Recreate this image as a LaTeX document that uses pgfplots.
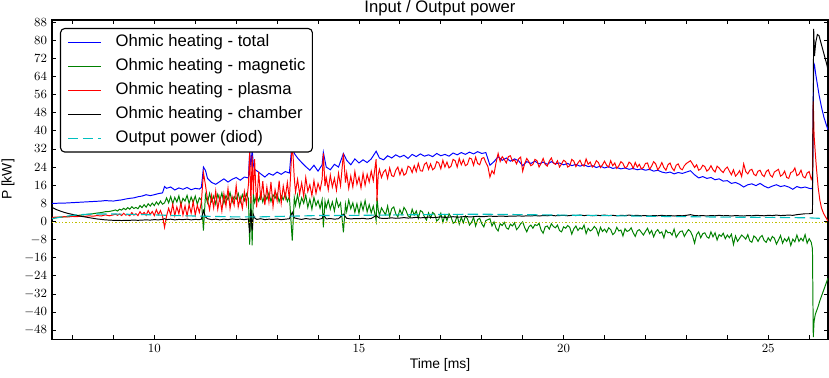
\documentclass[border=0pt]{standalone}
\usepackage{pgfplots}
\pgfplotsset{compat=1.18}
\usepackage{pgfplotstable}
\usepackage{fontspec}
\setmainfont{Liberation Sans}
\definecolor{mplblue}{rgb}{0,0,1}
\definecolor{mplgreen}{rgb}{0,0.5,0}
\definecolor{mplred}{rgb}{1,0,0}
\definecolor{mplcyan}{rgb}{0,0.75,0.75}
\definecolor{mplyellow}{rgb}{0.75,0.75,0}

\pgfplotstableread{
t M P
7.5 1.5 1.8
7.6 1.7 1.9
7.7 1.9 1.9
7.8 2.0 2.1
7.9 2.2 2.0
8.0 2.4 2.2
8.1 2.6 2.1
8.2 2.8 2.3
8.3 3.0 2.2
8.4 3.2 2.5
8.5 3.4 2.3
8.6 3.7 2.6
8.7 3.9 2.4
8.8 4.3 2.9
8.9 4.4 2.5
9.0 4.8 2.9
9.05 5.1 3.2
9.1 4.6 2.7
9.15 5.4 3.3
9.2 5.0 2.6
9.25 5.8 3.6
9.3 5.2 2.8
9.35 6.1 3.1
9.4 5.4 2.5
9.45 6.5 3.9
9.5 5.7 2.8
9.55 6.2 3.4
9.6 5.6 2.6
9.65 7.0 4.3
9.7 6.1 3.0
9.75 7.4 4.0
9.8 6.3 2.7
9.85 7.8 4.8
9.9 6.8 3.1
9.95 8.1 4.4
10.0 7.0 2.6
10.05 8.6 5.2
10.1 7.4 3.0
10.15 9.0 4.8
10.2 7.6 2.4
10.25 8.2 -2.6
10.3 10.4 2.5
10.35 8.2 5.8
10.4 11.0 3.0
10.45 7.8 7.6
10.5 10.6 2.6
10.55 8.6 6.4
10.6 11.3 3.4
10.65 7.4 8.2
10.7 10.2 2.8
10.75 9.0 6.9
10.8 11.5 2.4
10.85 7.9 7.4
10.9 10.8 3.6
10.95 8.4 8.8
11.0 11.2 2.9
11.05 7.6 7.1
11.1 10.4 4.0
11.15 9.4 8.6
11.2 -4.0 21.5
11.25 11.8 16.0
11.3 8.2 9.5
11.35 12.4 5.2
11.4 8.8 11.6
11.45 11.2 6.0
11.5 7.6 13.4
11.55 12.0 5.4
11.6 9.2 10.8
11.65 12.6 4.6
11.7 8.0 12.2
11.75 11.4 6.8
11.8 9.6 14.6
11.85 12.8 5.6
11.9 8.4 11.0
11.95 11.0 7.2
12.0 9.8 15.8
12.05 12.4 6.4
12.1 8.6 10.6
12.15 11.8 5.8
12.2 9.2 13.2
12.25 12.2 7.6
12.3 10.0 16.4
12.33 -10.2 30.5
12.36 11.0 8.0
12.39 -10.6 29.0
12.42 12.0 12.0
12.45 8.4 27.5
12.5 11.6 6.2
12.55 9.0 22.0
12.6 12.4 9.4
12.65 8.6 17.8
12.7 11.6 7.2
12.75 9.8 15.2
12.8 12.6 8.6
12.85 8.8 17.4
12.9 11.8 6.6
12.95 10.2 14.0
13.0 12.4 9.2
13.05 8.6 18.0
13.1 11.4 8.0
13.15 9.6 15.6
13.2 12.2 10.4
13.25 8.8 17.2
13.3 11.0 9.8
13.37 -8.4 35.5
13.42 10.4 19.0
13.45 7.2 13.0
13.5 11.8 18.6
13.55 6.6 12.0
13.6 10.4 17.0
13.65 8.0 11.0
13.7 11.6 19.4
13.75 6.2 13.2
13.8 9.8 16.2
13.85 5.4 11.4
13.9 10.6 18.0
13.95 7.0 12.4
14.0 9.2 16.8
14.05 5.8 13.8
14.1 9.6 18.6
14.13 -2.6 30.0
14.17 8.8 15.6
14.2 6.0 19.4
14.25 9.4 14.0
14.3 5.4 20.4
14.35 8.6 15.2
14.4 4.6 19.0
14.45 9.8 13.8
14.5 6.4 21.2
14.55 8.2 15.8
14.62 -4.8 30.0
14.67 7.6 17.2
14.7 4.4 21.4
14.75 9.4 14.6
14.8 5.6 20.0
14.85 8.2 15.2
14.9 4.0 22.0
14.95 7.8 16.4
15.0 3.6 19.6
15.05 8.4 14.8
15.1 5.0 21.2
15.15 9.2 16.0
15.2 4.2 20.8
15.25 7.4 17.4
15.3 3.8 22.2
15.35 6.8 18.0
15.42 0.4 27.5
15.44 10.5 9.0
15.47 5.2 20.6
15.5 2.6 23.0
15.55 6.0 19.4
15.6 4.4 21.8
15.65 3.0 22.8
15.7 6.8 19.0
15.75 2.2 23.6
15.8 5.6 20.2
15.85 6.4 19.8
15.9 3.4 22.6
15.95 2.0 24.0
16.0 5.2 20.6
16.05 3.0 23.2
16.1 6.2 20.4
16.15 4.8 21.2
16.2 2.4 24.4
16.25 1.8 23.8
16.3 5.4 21.6
16.35 2.8 24.6
16.4 4.6 22.0
16.45 1.4 25.6
16.5 4.8 22.4
16.55 4.2 22.2
16.6 2.0 25.2
16.65 0.6 26.0
16.7 3.8 23.0
16.75 1.6 25.4
16.8 4.0 22.8
16.85 3.2 23.6
16.9 0.2 26.4
16.95 1.0 25.8
17.0 3.6 23.2
17.05 -0.4 27.0
17.1 2.8 24.0
17.15 0.4 26.2
17.2 3.4 23.6
17.25 2.0 24.4
17.3 -0.8 27.4
17.35 -0.2 26.8
17.4 2.6 24.0
17.45 -1.2 27.8
17.5 1.8 25.0
17.55 -0.6 27.2
17.6 2.4 24.6
17.65 1.2 25.2
17.7 -1.6 28.0
17.75 -0.4 27.6
17.8 1.8 24.8
17.85 -2.0 28.4
17.9 0.8 25.6
17.95 1.4 25.0
18.0 -1.0 27.8
18.05 -2.4 28.2
18.1 0.4 26.0
18.15 0.8 24.2
18.2 1.2 19.6
18.25 -2.0 22.4
18.3 -0.2 21.0
18.35 -3.0 26.0
18.4 -4.2 30.0
18.45 -1.0 26.4
18.5 -1.8 28.6
18.55 -0.4 27.4
18.6 -2.8 25.8
18.65 -3.4 28.6
18.7 -1.2 29.0
18.75 -2.0 26.6
18.8 -0.6 27.2
18.85 -3.6 25.4
18.9 -2.6 27.6
18.95 -1.0 28.4
19.0 -0.2 22.2
19.05 -2.8 25.6
19.1 -4.6 27.8
19.15 -2.4 26.4
19.2 -1.6 24.6
19.25 -3.0 25.2
19.3 -1.4 27.4
19.35 -1.8 26.8
19.4 -0.8 24.0
19.45 -3.8 25.6
19.5 -5.2 27.8
19.55 -2.4 25.2
19.6 -2.0 24.4
19.65 -3.4 26.6
19.7 -1.0 28.0
19.75 -2.2 25.8
19.8 -2.8 25.2
19.85 -1.6 26.8
19.9 -4.0 24.0
19.95 -4.6 25.4
20.0 -2.4 27.0
20.05 -3.0 26.4
20.1 -1.8 24.0
20.15 -2.6 24.6
20.2 -5.6 27.4
20.25 -3.2 26.6
20.3 -2.0 24.2
20.35 -4.0 25.8
20.4 -2.8 27.0
20.45 -3.4 25.0
20.5 -1.6 24.4
20.55 -5.4 27.6
20.6 -3.0 25.2
20.65 -4.2 26.2
20.7 -3.6 24.0
20.75 -2.2 24.8
20.8 -3.2 26.8
20.85 -6.0 26.0
20.9 -2.6 23.8
20.95 -4.4 25.0
21.0 -3.4 26.6
21.05 -4.8 24.8
21.1 -2.8 24.0
21.15 -3.6 26.8
21.2 -5.8 24.6
21.25 -5.0 25.8
21.3 -2.6 23.4
21.35 -4.2 24.6
21.4 -3.8 26.4
21.45 -6.4 25.6
21.5 -3.2 23.6
21.55 -4.4 24.2
21.6 -4.0 26.2
21.65 -2.8 25.4
21.7 -5.0 23.4
21.75 -6.6 26.0
21.8 -4.2 24.0
21.85 -3.6 25.2
21.9 -4.8 23.2
21.95 -6.0 23.8
22.0 -4.4 25.6
22.05 -3.0 25.8
22.1 -5.4 23.0
22.15 -4.0 24.4
22.2 -6.8 26.4
22.25 -4.6 25.4
22.3 -3.6 22.8
22.35 -5.2 24.0
22.4 -4.6 26.0
22.45 -7.2 23.8
22.5 -3.8 22.6
22.55 -5.0 25.0
22.6 -4.8 25.8
22.65 -6.0 23.6
22.7 -3.4 22.4
22.75 -7.0 24.8
22.8 -5.6 25.4
22.85 -4.4 23.4
22.9 -4.2 22.8
22.95 -6.6 24.6
23.0 -5.0 25.6
23.05 -3.6 26.2
23.1 -4.4 26.8
23.15 -6.4 25.4
23.2 -9.6 23.8
23.25 -5.8 25.0
23.3 -4.6 22.6
23.35 -7.2 23.2
23.4 -5.4 24.8
23.45 -5.0 24.2
23.5 -6.8 22.2
23.55 -7.4 23.0
23.6 -4.6 24.6
23.65 -6.8 22.8
23.7 -5.0 21.8
23.75 -8.2 24.4
23.8 -5.8 23.6
23.85 -6.6 22.4
23.9 -5.2 21.6
23.95 -7.6 23.2
24.0 -6.0 24.0
24.05 -7.2 22.2
24.1 -5.6 20.6
24.15 -10.2 22.8
24.2 -6.4 20.0
24.25 -8.8 21.0
24.3 -7.4 22.4
24.35 -6.0 19.8
24.4 -6.8 25.4
24.45 -7.8 22.0
24.5 -5.8 21.0
24.55 -8.6 22.6
24.6 -9.2 23.0
24.65 -6.4 20.8
24.7 -7.2 20.2
24.75 -8.8 22.2
24.8 -7.0 22.6
24.85 -6.2 20.6
24.9 -8.4 19.8
24.95 -9.2 22.0
25.0 -7.2 22.8
25.05 -8.6 20.4
25.1 -6.6 19.6
25.15 -7.4 21.8
25.2 -10.0 22.4
25.25 -8.2 23.0
25.3 -6.2 20.0
25.35 -9.6 20.6
25.4 -7.6 22.2
25.45 -8.8 19.4
25.5 -7.0 19.0
25.55 -10.6 21.6
25.6 -7.8 22.0
25.65 -9.0 23.6
25.7 -6.0 20.2
25.75 -8.8 20.8
25.8 -7.4 22.6
25.85 -8.6 19.8
25.9 -5.8 19.2
25.95 -9.6 21.4
26.0 -7.6 22.0
26.05 -9.2 18.6
26.08 -12.0 20.0
26.1 -51.0 53.0
26.12 -44.0 38.0
26.15 -41.0 30.0
26.18 -39.5 23.0
26.22 -37.5 15.0
26.26 -35.0 9.5
26.3 -33.0 6.0
26.35 -30.5 3.6
26.4 -28.0 2.0
26.46 -25.0 0.2
}\rgdata

\pgfplotstableread{
t T C
7.5 8.0 6.2
7.6 8.0 5.3
7.7 8.1 4.6
7.8 8.1 4.0
7.9 8.2 3.5
8.0 8.3 3.1
8.1 8.4 2.7
8.2 8.5 2.3
8.3 8.6 2.0
8.4 8.7 1.7
8.5 8.8 1.4
8.6 8.9 1.1
8.7 9.0 0.9
8.8 9.2 0.7
8.9 9.1 0.6
9.0 9.0 0.5
9.1 9.3 0.5
9.2 9.5 0.4
9.3 9.9 0.5
9.4 10.2 0.5
9.5 10.4 0.6
9.6 10.9 0.5
9.7 11.2 0.6
9.8 11.8 0.7
9.9 11.4 0.6
10.0 11.8 0.8
10.1 12.3 0.7
10.2 12.6 0.9
10.25 15.4 1.2
10.3 14.6 0.8
10.4 15.2 1.0
10.5 13.9 0.7
10.6 14.8 0.9
10.7 14.2 0.8
10.8 15.0 1.0
10.9 14.0 0.7
11.0 14.6 0.9
11.1 14.3 0.8
11.15 15.0 1.0
11.2 24.0 4.8
11.25 22.5 2.0
11.3 19.0 1.2
11.4 17.2 0.8
11.5 16.4 1.0
11.6 17.6 0.7
11.7 18.8 1.0
11.8 17.4 0.8
11.9 18.6 1.1
12.0 19.4 0.9
12.1 18.2 1.0
12.2 19.6 0.8
12.3 19.2 1.1
12.33 31.0 -5.0
12.36 24.0 5.6
12.39 32.0 -4.0
12.42 25.0 3.0
12.45 23.0 1.6
12.5 22.4 0.9
12.6 21.0 1.2
12.7 19.6 0.8
12.8 21.2 1.0
12.9 20.4 0.9
13.0 21.8 1.1
13.1 20.8 0.8
13.2 22.0 1.0
13.3 21.4 1.2
13.37 35.5 4.0
13.42 30.0 1.6
13.5 28.0 1.2
13.6 26.0 0.9
13.7 24.2 1.3
13.8 22.6 1.0
13.9 24.8 1.2
14.0 22.2 0.9
14.1 25.0 1.3
14.13 30.5 3.0
14.2 24.0 1.1
14.3 22.8 1.3
14.4 25.2 1.0
14.5 24.0 1.2
14.62 30.0 3.2
14.7 27.0 1.4
14.8 25.0 1.1
14.9 27.6 1.3
15.0 25.8 1.2
15.1 27.2 1.4
15.2 26.0 1.1
15.3 27.6 1.3
15.42 31.0 2.6
15.5 28.0 1.5
15.6 27.2 1.3
15.7 29.0 1.4
15.8 28.0 1.6
15.9 29.4 1.4
16.0 28.4 1.5
16.1 29.2 1.7
16.2 27.8 1.5
16.3 29.6 1.6
16.4 28.6 1.8
16.5 29.8 1.6
16.6 28.8 1.7
16.7 29.4 1.9
16.8 28.6 1.7
16.9 30.0 1.8
17.0 29.0 2.0
17.1 29.6 1.8
17.2 28.8 1.9
17.3 30.2 2.1
17.4 29.4 1.9
17.5 30.4 2.0
17.6 29.6 2.2
17.7 30.6 2.0
17.8 29.8 2.1
17.9 30.8 2.3
18.0 30.0 2.1
18.1 30.4 2.2
18.2 24.8 2.4
18.3 26.4 2.2
18.4 28.6 2.3
18.5 27.0 2.4
18.6 28.0 2.2
18.7 26.6 2.4
18.8 27.6 2.3
18.9 26.8 2.5
19.0 24.6 2.3
19.1 26.4 2.5
19.2 25.6 2.4
19.3 26.6 2.6
19.4 25.4 2.4
19.5 26.2 2.6
19.6 25.2 2.5
19.7 26.4 2.7
19.8 25.4 2.5
19.9 25.8 2.6
20.0 25.0 2.7
20.1 25.6 2.5
20.2 24.6 2.7
20.3 25.2 2.6
20.4 24.4 2.8
20.5 25.0 2.6
20.6 24.2 2.7
20.7 24.6 2.5
20.8 23.8 2.7
20.9 24.4 2.6
21.0 23.6 2.8
21.1 24.2 2.6
21.2 23.4 2.7
21.3 23.8 2.5
21.4 23.2 2.7
21.5 23.6 2.6
21.6 23.0 2.8
21.7 23.4 2.6
21.8 22.8 2.7
21.9 23.2 2.5
22.0 22.6 2.6
22.1 23.0 2.4
22.2 22.2 2.6
22.3 22.6 2.5
22.4 21.8 2.7
22.5 21.4 2.5
22.6 21.8 2.6
22.7 21.0 2.4
22.8 21.6 2.6
22.9 21.2 2.5
23.0 21.8 2.7
23.1 22.4 3.0
23.2 20.6 2.6
23.3 19.2 2.5
23.4 19.8 2.6
23.5 19.0 2.4
23.6 19.4 2.6
23.7 18.4 2.5
23.8 18.8 2.7
23.9 17.8 2.5
24.0 18.0 2.6
24.1 16.8 2.4
24.2 17.2 2.6
24.3 16.4 2.5
24.4 15.2 2.4
24.5 16.2 2.6
24.6 16.6 2.5
24.7 15.8 2.7
24.8 16.8 2.6
24.9 15.6 2.5
25.0 14.8 2.7
25.1 15.6 2.6
25.2 16.2 2.8
25.3 15.4 2.6
25.4 15.8 2.7
25.5 15.2 2.8
25.6 14.2 2.7
25.7 15.4 3.0
25.8 14.8 3.2
25.9 15.2 3.4
26.0 14.6 3.4
26.08 14.4 3.6
26.11 70.0 85.0
26.13 69.0 73.0
26.16 65.0 79.0
26.2 60.5 82.5
26.24 56.0 82.0
26.3 50.5 78.0
26.36 46.0 74.0
26.42 42.5 70.0
26.46 40.5 67.0
}\tcdata

\begin{document}
\begin{tikzpicture}
\begin{axis}[
  scale only axis,
  width=558.7pt, height=229.7pt,
  xmin=7.5, xmax=26.46, ymin=-51.9, ymax=88.9,
  xtick={10,15,20,25},
  minor xtick={8,9,11,12,13,14,16,17,18,19,21,22,23,24,26},
  ytick={-48,-40,-32,-24,-16,-8,0,8,16,24,32,40,48,56,64,72,80,88},
  tick align=inside,
  major tick length=3pt, minor tick length=3pt,
  every tick/.style={black, line width=0.6pt},
  axis line style={black, line width=0.8pt},
  tick label style={font=\fontsize{9}{11}\selectfont},
  title={Input / Output power},
  title style={font=\fontsize{12}{14}\selectfont, anchor=base, yshift=-0.7pt},
  xlabel={Time [ms]},
  xlabel style={font=\fontsize{10}{12}\selectfont, at={(axis description cs:0.5,-0.0814)}, anchor=center},
  ylabel={P [kW]},
  ylabel style={font=\fontsize{10}{12}\selectfont, at={(axis description cs:-0.0567,0.5)}, anchor=center},
  legend image code/.code={\draw[#1] (0pt,0pt) -- (23.8pt,0pt); \path (33.8pt,0pt);},
  legend cell align=left,
  legend style={at={(0.0103,0.975)}, anchor=north west, draw=black, line width=0.8pt,
    rounded corners=3pt, fill=white, font=\fontsize{12}{14.4}\selectfont,
    inner xsep=5pt, inner ysep=4.3pt, row sep=6.2pt,
    nodes={inner sep=0pt, text height=8.6pt, text depth=2.5pt}},
]
\addplot[mplblue, line width=0.7pt] table[x=t, y=T] {\tcdata};
\addlegendentry{Ohmic heating - total}
\addplot[mplgreen, line width=0.7pt] table[x=t, y=M] {\rgdata};
\addlegendentry{Ohmic heating - magnetic}
\addplot[mplred, line width=0.7pt] table[x=t, y=P] {\rgdata};
\addlegendentry{Ohmic heating - plasma}
\addplot[black, line width=0.7pt] table[x=t, y=C] {\tcdata};
\addlegendentry{Ohmic heating - chamber}
\addplot[mplcyan, line width=0.8pt, dash pattern=on 7.5pt off 3.2pt] coordinates {
(7.5,1.2) (7.8,2.2) (8.1,2.9) (8.5,3.3) (9.0,3.3) (9.5,3.1) (10.0,2.9) (10.5,2.6)
(11.0,2.4) (11.5,2.2) (12.0,2.0) (12.5,2.0) (13.0,2.2) (13.5,2.4) (14.0,2.6)
(15.0,2.7) (16.0,2.9) (17.0,3.1) (18.0,3.2) (19.0,3.0) (20.0,2.8) (21.0,2.6)
(22.0,2.3) (23.0,2.1) (24.0,1.9) (25.0,1.8) (26.0,1.6) (26.1,1.5) (26.35,1.3)};
\addlegendentry{Output power (diod)}
\addplot[mplyellow, line width=0.8pt, dash pattern=on 1pt off 1.4pt, forget plot] coordinates {(7.5,-0.3) (26.46,-0.3)};
\coordinate (ll) at (rel axis cs:0,0);
\coordinate (ur) at (rel axis cs:1,1);
\end{axis}
\pgfresetboundingbox
\path[use as bounding box] ([shift={(-37.44pt,-27.36pt)}]ll) rectangle ([shift={(0.72pt,14.4pt)}]ur);
\end{tikzpicture}
\end{document}
